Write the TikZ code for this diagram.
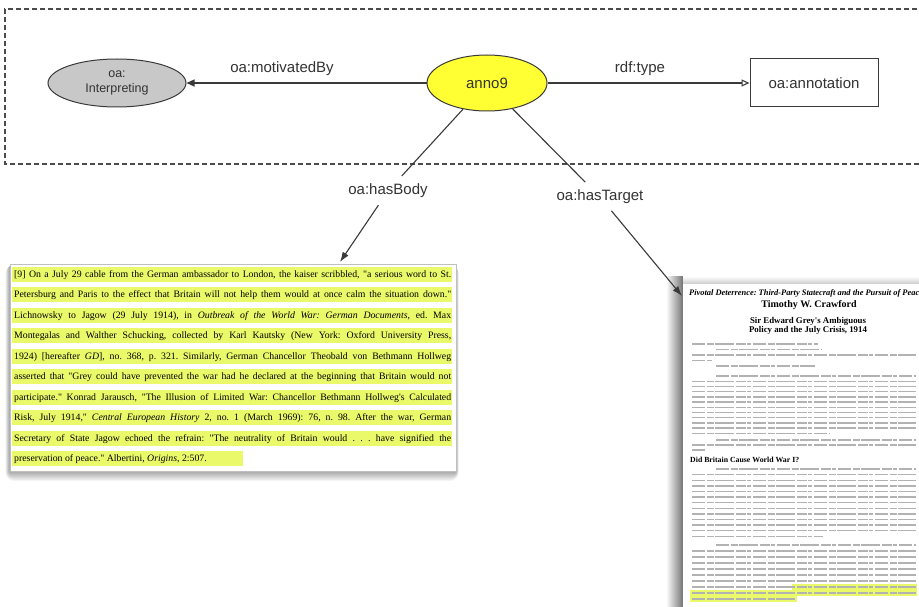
\documentclass[tikz,border=0pt]{standalone}
\usepackage{fontspec}
\setmainfont{Liberation Serif}[Ligatures=TeXOff]
\setsansfont{Liberation Sans}
\usetikzlibrary{arrows.meta,shapes.geometric}
\definecolor{hl}{HTML}{EAF96A}
\definecolor{annoY}{HTML}{FFFF33}
\definecolor{edge}{HTML}{3A3A3A}
\definecolor{lbl}{HTML}{333333}
\definecolor{interpG}{HTML}{C8C8C8}
\frenchspacing
\begin{document}
\begin{tikzpicture}[x=1pt,y=-1pt,
  lab/.style={font=\sffamily\fontsize{15}{16}\selectfont, text=lbl, inner sep=2pt},
  ell/.style={ellipse, draw=edge, line width=1pt, inner sep=0pt, text=lbl},
  conn/.style={draw=edge, line width=1.1pt},
  bodytxt/.style={font=\fontsize{9.8}{10}\selectfont, inner sep=0pt, anchor=base west},
  txl/.style={draw=black!30, line width=1.4pt, dash pattern=on 13pt off 1.6pt on 7pt off 1.6pt on 19pt off 1.6pt on 10pt off 1.6pt on 4pt off 1.6pt},
  pagehl/.style={fill=hl}
]
\useasboundingbox (0,0) rectangle (919,607);
\clip (0,0) rectangle (919,607);
\fill[white] (0,0) rectangle (919,607);

% dashed frame
\draw[draw=black!70, line width=1.1pt, dash pattern=on 5pt off 3pt] (925,9) -- (5,9) -- (5,164) -- (925,164);

% ---------- body text box ----------
\foreach \i in {1,...,9}
  \fill[black, opacity=0.045, rounded corners=\i pt] (10-0.5*\i,265) rectangle (456+0.3*\i,471+1.1*\i);
\node[draw=black!25, fill=white, line width=0.6pt, anchor=north west, inner sep=0pt,
      minimum width=446pt, minimum height=207pt] (body) at (10,264) {};

\foreach \k in {0,...,8}
  \fill[pagehl] (12,{274+20.5*\k-7.5}) rectangle (452,{274+20.5*\k+7.5});
\fill[pagehl] (12,{274+20.5*9-7.5}) rectangle (243,{274+20.5*9+7.5});

\node[bodytxt] (l1) at (14,277) {\makebox[437pt][s]{[9] On a July 29 cable from the German ambassador to London, the kaiser scribbled, "a serious word to St.}};
\node[bodytxt] (l2) at (14,297.5) {\makebox[437pt][s]{Petersburg and Paris to the effect that Britain will not help them would at once calm the situation down."}};
\node[bodytxt] (l3) at (14,318) {\makebox[437pt][s]{Lichnowsky to Jagow (29 July 1914), in \textit{Outbreak of the World War: German Documents}, ed. Max}};
\node[bodytxt] (l4) at (14,338.5) {\makebox[437pt][s]{Montegalas and Walther Schucking, collected by Karl Kautsky (New York: Oxford University Press,}};
\node[bodytxt] (l5) at (14,359) {\makebox[437pt][s]{1924) [hereafter \textit{GD}], no. 368, p. 321. Similarly, German Chancellor Theobald von Bethmann Hollweg}};
\node[bodytxt] (l6) at (14,379.5) {\makebox[437pt][s]{asserted that "Grey could have prevented the war had he declared at the beginning that Britain would not}};
\node[bodytxt] (l7) at (14,400) {\makebox[437pt][s]{participate." Konrad Jarausch, "The Illusion of Limited War: Chancellor Bethmann Hollweg's Calculated}};
\node[bodytxt] (l8) at (14,420.5) {\makebox[437pt][s]{Risk, July 1914," \textit{Central European History} 2, no. 1 (March 1969): 76, n. 98. After the war, German}};
\node[bodytxt] (l9) at (14,441) {\makebox[437pt][s]{Secretary of State Jagow echoed the refrain: "The neutrality of Britain would . . . have signified the}};
\node[bodytxt] (l10) at (14,461.5) {preservation of peace." Albertini, \textit{Origins}, 2:507.};

% ---------- target page ----------
\shade[left color=white, right color=black!55] (666,276) rectangle (683,607);
\shade[top color=white, bottom color=black!20] (683,276) rectangle (919,284);
\fill[white] (683,284) rectangle (919,607);

\node[anchor=base west, inner sep=0pt, font=\bfseries\itshape\fontsize{8.4}{9}\selectfont] (ttl) at (689,295) {Pivotal Deterrence: Third-Party Statecraft and the Pursuit of Peace};
\node[anchor=base, inner sep=0pt, font=\bfseries\fontsize{10}{11}\selectfont] (auth) at (809,307) {Timothy W. Crawford};
\node[anchor=base, inner sep=0pt, font=\bfseries\fontsize{8.8}{9}\selectfont] (ch1) at (808,323) {Sir Edward Grey's Ambiguous};
\node[anchor=base, inner sep=0pt, font=\bfseries\fontsize{8.8}{9}\selectfont] (ch2) at (808,332) {Policy and the July Crisis, 1914};
\node[anchor=base west, inner sep=0pt, font=\bfseries\fontsize{7.8}{8}\selectfont] (sec) at (690,462) {Did Britain Cause World War I?};

% highlighted passage on the page
\fill[pagehl] (792,584) rectangle (917,590);
\fill[pagehl] (690,590) rectangle (917,596);
\fill[pagehl] (690,596) rectangle (797,602);

% blurred body text of the page
\foreach \y/\a/\b in {344/692/818, 349.5/716/822, 355/692/916, 360.5/692/712, 366/716/815,
  376/716/916, 381.2/692/916, 386.4/692/916, 391.6/692/916, 396.8/692/916, 402/692/916,
  407.2/692/916, 412.4/692/916, 417.6/692/916, 422.8/692/916, 428/692/916, 433.2/692/830,
  440/716/916, 445/692/916, 450/692/706,
  469/716/916, 474.6/692/916, 480.2/692/916, 485.8/692/916, 491.4/692/916, 497/692/916,
  502.6/692/916, 508.2/692/916, 513.8/692/916, 519.4/692/916, 525/692/916, 530.6/692/916, 536.2/692/823,
  545/716/916, 551/692/916, 557/692/916, 563/692/916, 569/692/916, 575/692/916,
  581/692/916, 587/692/916, 593/692/916, 599/692/795}
  \draw[txl] (\a,\y) -- (\b,\y);

% ---------- graph ----------
\node[ell, fill=interpG, minimum width=138pt, minimum height=48pt, align=center,
      font=\sffamily\fontsize{12.5}{15}\selectfont] (interp) at (117,83) {oa:\\Interpreting};
\node[ell, fill=annoY, minimum width=120pt, minimum height=56pt,
      font=\sffamily\fontsize{15}{16}\selectfont] (anno) at (487,83) {anno9};
\node[draw=edge, line width=1pt, minimum width=128pt, minimum height=48pt, text=lbl,
      font=\sffamily\fontsize{15}{16}\selectfont] (annot) at (814,83) {oa:annotation};

\node[lab] (lmot) at (282,69) {oa:motivatedBy};
\node[lab] (ltype) at (640,69) {rdf:type};
\node[lab] (hb) at (388,191) {oa:hasBody};
\node[lab] (ht) at (600,197) {oa:hasTarget};

\coordinate (bt) at (340,262);
\coordinate (tt) at (682,296);

\draw[conn, -{Triangle[length=8pt,width=7pt]}] (anno.west) -- (interp.east);
\draw[conn, -{Triangle[open,length=8pt,width=7pt]}] (anno.east) -- (annot.west);
\draw[conn, shorten >=8pt] (anno) -- (hb);
\draw[conn, shorten <=6pt, -{Latex[length=10pt,width=7pt]}] (hb) -- (bt);
\draw[conn, shorten >=8pt] (anno) -- (ht);
\draw[conn, shorten <=6pt, -{Latex[length=10pt,width=7pt]}] (ht) -- (tt);
\end{tikzpicture}
\end{document}
